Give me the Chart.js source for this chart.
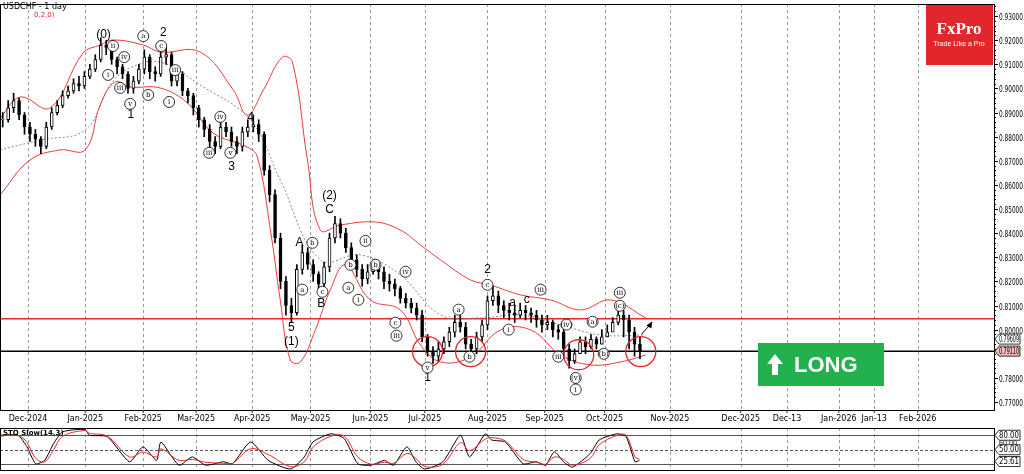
<!DOCTYPE html>
<html><head><meta charset="utf-8">
<script src="https://cdn.jsdelivr.net/npm/chart.js@4/dist/chart.umd.min.js"></script>
<style>
body{margin:0;background:#fff;width:1024px;height:474px;overflow:hidden;font-family:"Liberation Sans",Arial,sans-serif}
canvas{position:absolute;left:0}
#p{top:0}#s{top:426px}
</style></head><body>
<canvas id="p" width="1024" height="426"></canvas>
<canvas id="s" width="1024" height="48"></canvas>
<script>
// price bars, one every two trading days
const closes = [0.887,0.892,0.895,0.889,0.884,0.881,0.879,0.876,0.884,0.890,0.893,0.897,0.899,0.902,0.901,0.905,0.908,0.912,0.918,0.917,0.912,0.909,0.906,0.900,0.903,0.908,0.913,0.907,0.906,0.913,0.914,0.903,0.906,0.899,0.897,0.892,0.887,0.883,0.878,0.876,0.884,0.882,0.878,0.876,0.882,0.884,0.885,0.881,0.866,0.856,0.838,0.820,0.810,0.807,0.825,0.832,0.827,0.823,0.819,0.826,0.838,0.844,0.840,0.834,0.829,0.825,0.821,0.824,0.826,0.824,0.820,0.819,0.817,0.813,0.811,0.809,0.806,0.797,0.791,0.789,0.792,0.795,0.799,0.803,0.801,0.794,0.792,0.797,0.802,0.812,0.814,0.810,0.808,0.807,0.806,0.808,0.807,0.806,0.804,0.802,0.803,0.800,0.799,0.792,0.787,0.790,0.795,0.793,0.796,0.794,0.797,0.799,0.803,0.806,0.804,0.799,0.794,0.7911];
const highs = [0.890,0.895,0.898,0.896,0.890,0.886,0.883,0.880,0.886,0.892,0.895,0.899,0.901,0.904,0.905,0.907,0.910,0.914,0.921,0.920,0.918,0.913,0.910,0.907,0.905,0.910,0.916,0.914,0.909,0.915,0.917,0.915,0.908,0.907,0.900,0.898,0.893,0.888,0.885,0.880,0.887,0.886,0.884,0.880,0.884,0.887,0.889,0.887,0.882,0.868,0.858,0.840,0.822,0.813,0.827,0.835,0.834,0.829,0.824,0.828,0.840,0.847,0.846,0.842,0.836,0.831,0.827,0.827,0.829,0.828,0.826,0.823,0.821,0.818,0.815,0.813,0.811,0.808,0.798,0.793,0.795,0.797,0.801,0.806,0.806,0.803,0.796,0.799,0.804,0.814,0.818,0.816,0.812,0.811,0.810,0.811,0.810,0.809,0.808,0.806,0.806,0.804,0.802,0.801,0.794,0.792,0.797,0.797,0.798,0.797,0.800,0.802,0.805,0.808,0.808,0.806,0.801,0.797];
const lows = [0.884,0.886,0.890,0.887,0.881,0.878,0.876,0.873,0.875,0.883,0.889,0.892,0.896,0.898,0.899,0.900,0.904,0.907,0.911,0.914,0.910,0.906,0.904,0.898,0.898,0.902,0.906,0.904,0.903,0.905,0.910,0.901,0.901,0.897,0.894,0.889,0.884,0.880,0.875,0.873,0.875,0.880,0.876,0.873,0.874,0.880,0.882,0.878,0.864,0.853,0.836,0.817,0.806,0.803,0.806,0.823,0.825,0.820,0.816,0.816,0.824,0.836,0.838,0.832,0.827,0.822,0.818,0.819,0.823,0.821,0.817,0.816,0.814,0.811,0.809,0.807,0.804,0.795,0.789,0.786,0.787,0.790,0.793,0.797,0.799,0.792,0.789,0.790,0.795,0.800,0.810,0.807,0.805,0.804,0.803,0.805,0.804,0.803,0.801,0.799,0.800,0.797,0.796,0.789,0.784,0.786,0.790,0.790,0.792,0.792,0.794,0.797,0.801,0.802,0.797,0.792,0.789,0.788];

// bollinger band readings (x in trading days)
const upperDays = [0,7.4,18.4,30.5,36.8,41.5,52.6,58.8,73.5,85.7,90.8,96.7,103.7,107.4,112.9,117.6,125,137.9,147,154.4,161.8,172.8,180.1,191.2,202.2,213.2,224.3,237.1];
const upperVals = [0.8877,0.8964,0.8919,0.9147,0.918,0.9201,0.918,0.9151,0.9151,0.8993,0.889,0.8993,0.913,0.9109,0.8703,0.8413,0.8434,0.8446,0.8413,0.8351,0.8289,0.8206,0.8185,0.8144,0.8123,0.8082,0.8123,0.8049];
const lowerDays = [0,11,22,31.3,36.8,42.3,47.8,58.8,68.8,78.3,90.8,94.5,99.3,102.9,106.6,110.3,115.8,121.3,126.8,136,147,154.4,161.8,172.8,183.8,194.9,205.9,216.9,227.9,237.1];
const lowerVals = [0.8558,0.8703,0.8745,0.8745,0.8931,0.9027,0.9006,0.9002,0.894,0.8815,0.8757,0.8716,0.8413,0.8123,0.7874,0.7866,0.7999,0.8165,0.8268,0.8123,0.8082,0.7937,0.7866,0.7887,0.7999,0.7999,0.7895,0.7854,0.7866,0.7895];
const midDays = [0,14.7,31.3,40.4,47.8,58.8,73.5,91.9,102.9,117.6,132.4,147,161.8,176.5,191.2,205.9,220.6,237.1];
const midVals = [0.8745,0.8786,0.8828,0.9014,0.9085,0.9109,0.9014,0.8869,0.862,0.8289,0.831,0.8227,0.8061,0.8049,0.8061,0.802,0.7978,0.7978];

const resistance = 0.8045;
const support = 0.7911;
const lastPrice = 0.79110;
const bidPrice = 0.79609;

// stochastic slow (14,3)
const stoDays = [0,6.6,9.9,13.1,16.4,19.7,23,31.2,32.8,39.4,47.6,52.5,57.5,59.1,65.7,70.6,75.5,82.1,85.4,92,98.5,106.7,111.7,114.9,121.5,126.4,131.4,136.3,141.2,144.5,149.4,152.7,156,162.6,169.1,172.4,178.2,180.6,185.6,192.1,197,200.3,203.6,206.9,210.2,216.7,220,226.6,229.9,233.2,234.8];
const stoK = [80,80,56,21,28,63,87,92,80,77,25,56,28,66,18,35,18,25,21,66,28,10,35,66,83,73,21,18,28,18,56,25,10,25,80,35,83,70,66,21,25,18,46,25,14,42,70,83,77,25,28];
const stoD = [78,80,65,32,25,50,78,90,84,78,35,45,35,52,28,30,24,22,22,52,40,15,25,55,78,78,35,20,24,22,42,32,15,20,65,48,72,75,68,30,24,20,35,30,18,32,60,80,80,35,30];

// axis ticks
const timeTickDays = [10.3,31.3,52.6,72,92.6,114,136,156,179,200,222,246,272,289,308,321,337];
const timeTickLabels = ['Dec-2024','Jan-2025','Feb-2025','Mar-2025','Apr-2025','May-2025','Jun-2025','Jul-2025','Aug-2025','Sep-2025','Oct-2025','Nov-2025','Dec-2025','Dec-13','Jan-2026','Jan-13','Feb-2026'];
const priceTicks = [0.93,0.92,0.91,0.90,0.89,0.88,0.87,0.86,0.85,0.84,0.83,0.82,0.81,0.80,0.78,0.77];

// wave labels [text, day, price, circled]
const waves = [
 ['(0)',38,0.9221,0],['1',48,0.889,0],['2',60,0.923,0],['3',85,0.8675,0],['4',92,0.8878,0],
 ['5',107,0.801,0],['(1)',107,0.795,0],['A',110,0.836,0],['B',118,0.8108,0],['C',121,0.8497,0],
 ['(2)',121,0.8555,0],['1',157,0.780,0],['2',179,0.8248,0],['a',188.2,0.8112,0],['c',193.4,0.8124,0],
 ['ii',41.5,0.9176,1],['iv',45.6,0.913,1],['i',39.7,0.9056,1],['iii',44.1,0.9002,1],['v',47.8,0.8936,1],
 ['a',52.6,0.9217,1],['c',59.2,0.9176,1],['b',54.4,0.8973,1],['i',62.1,0.8944,1],['iii',64.3,0.9076,1],
 ['iv',80.9,0.8882,1],['iii',76.8,0.8733,1],['v',84.6,0.8733,1],['b',114.7,0.836,1],['a',111,0.8166,1],
 ['c',118.4,0.8157,1],['ii',134.2,0.8368,1],['b',128.7,0.8269,1],['a',127.9,0.8174,1],['(b)',137.9,0.8269,1],
 ['i',131.6,0.8124,1],['iv',148.9,0.824,1],['c',145.2,0.8029,1],['iii',145.6,0.7975,1],['v',157,0.7843,1],
 ['a',168.4,0.8083,1],['b',172.4,0.7888,1],['c',179,0.8186,1],['i',186.8,0.8,1],['iii',198.5,0.8166,1],
 ['(iv)',208,0.8021,1],['iii',205,0.7888,1],['(v)',211.4,0.78,1],['i',211.4,0.7752,1],['(a)',217.6,0.8033,1],
 ['(b)',221.7,0.79,1],['(c)',227.6,0.8099,1],['iii',227.6,0.8153,1]
];
const rings = [[157,0.7909],[172.8,0.7909],[212.5,0.7896],[235.3,0.7909]];

const xMax = 365;
const pts = (xs, ys) => xs.map((x, i) => ({x: x, y: ys[i]}));
const slotDay = i => 2 * i + 1;

const opens = closes.map((c, i) => i ? closes[i - 1] : c);
const wicks = closes.map((c, i) => ({x: slotDay(i), y: [lows[i], highs[i]]}));
const bodies = closes.map((c, i) => ({x: slotDay(i), y: [opens[i], c === opens[i] ? c + 0.0003 : c]}));
const bodyFill = closes.map((c, i) => c >= opens[i] ? '#fff' : '#000');

function frame(chart, ctx) {
    const a = chart.chartArea;
    ctx.save();
    ctx.strokeStyle = '#9a9a9a';
    ctx.setLineDash([3, 3]);
    ctx.lineWidth = 1;
    timeTickDays.forEach(d => {
        const x = Math.round(chart.scales.x.getPixelForValue(d)) + 0.5;
        ctx.beginPath(); ctx.moveTo(x, a.top); ctx.lineTo(x, a.bottom); ctx.stroke();
    });
    ctx.restore();
}
function border(chart, ctx) {
    const a = chart.chartArea;
    ctx.save();
    ctx.strokeStyle = '#000'; ctx.lineWidth = 1;
    ctx.strokeRect(a.left + 0.5, a.top + 0.5, a.right - a.left, a.bottom - a.top);
    ctx.restore();
}
function narrow(ctx, text, x, y, maxW) {
    const w = ctx.measureText(text).width;
    const k = Math.min(1, maxW / w);
    ctx.save(); ctx.translate(x, y); ctx.scale(k, 1); ctx.fillText(text, 0, 0); ctx.restore();
}
function tag(ctx, x, y, text, bg) {
    ctx.font = '8px "DejaVu Sans", sans-serif';
    const w = 22;
    ctx.fillStyle = bg; ctx.strokeStyle = '#333'; ctx.lineWidth = 1;
    ctx.beginPath();
    ctx.moveTo(x + 1, y); ctx.lineTo(x + 5, y - 5); ctx.lineTo(x + 4 + w, y - 5);
    ctx.lineTo(x + 4 + w, y + 5); ctx.lineTo(x + 5, y + 5); ctx.closePath();
    ctx.fill(); ctx.stroke();
    ctx.fillStyle = '#000'; ctx.textBaseline = 'middle'; ctx.textAlign = 'left';
    narrow(ctx, text, x + 5, y + 0.5, w - 2);
}

const pricePlugin = {
    id: 'pricePlugin',
    beforeDatasetsDraw(chart) { frame(chart, chart.ctx); },
    afterDatasetsDraw(chart) {
        const ctx = chart.ctx, a = chart.chartArea, xs = chart.scales.x, ys = chart.scales.y;
        ctx.save();
        // rings
        ctx.strokeStyle = '#e8262b'; ctx.lineWidth = 1.3;
        rings.forEach(r => {
            ctx.beginPath();
            ctx.arc(xs.getPixelForValue(r[0]), ys.getPixelForValue(r[1]), 15, 0, Math.PI * 2);
            ctx.stroke();
        });
        // arrow
        const ax = xs.getPixelForValue(235.5), ay = ys.getPixelForValue(0.798);
        ctx.strokeStyle = '#000'; ctx.lineWidth = 1;
        ctx.beginPath(); ctx.moveTo(ax, ay); ctx.lineTo(ax + 9, ay - 10); ctx.stroke();
        ctx.fillStyle = '#000';
        ctx.beginPath(); ctx.moveTo(ax + 11, ay - 13); ctx.lineTo(ax + 5, ay - 9); ctx.lineTo(ax + 10, ay - 6); ctx.fill();
        // wave labels
        ctx.textAlign = 'center'; ctx.textBaseline = 'middle';
        waves.forEach(w => {
            const x = xs.getPixelForValue(w[1]), y = ys.getPixelForValue(w[2]);
            if (w[3]) {
                ctx.fillStyle = '#fff'; ctx.strokeStyle = '#000'; ctx.lineWidth = 0.8;
                ctx.beginPath(); ctx.arc(x, y, 5.5, 0, Math.PI * 2); ctx.fill(); ctx.stroke();
                ctx.fillStyle = '#000'; ctx.font = '7px "DejaVu Serif", serif';
                ctx.fillText(w[0], x, y + 0.5);
            } else {
                ctx.fillStyle = '#000'; ctx.font = '12px "Liberation Sans", Arial';
                ctx.fillText(w[0], x, y);
            }
        });
        // title
        ctx.textAlign = 'left'; ctx.textBaseline = 'top';
        ctx.font = '8px "DejaVu Sans", sans-serif'; ctx.fillStyle = '#000';
        ctx.fillText('USDCHF - 1 day', 3, 3);
        ctx.fillStyle = '#e8262b'; ctx.font = '7px "DejaVu Sans", sans-serif';
        ctx.fillText('0,2,0)', 34, 12);
        // LONG box
        ctx.fillStyle = '#22b14c'; ctx.fillRect(758, 343, 126, 43);
        ctx.fillStyle = '#fff';
        ctx.beginPath(); ctx.moveTo(775, 354); ctx.lineTo(767, 364); ctx.lineTo(772, 364); ctx.lineTo(772, 375);
        ctx.lineTo(778, 375); ctx.lineTo(778, 364); ctx.lineTo(783, 364); ctx.closePath(); ctx.fill();
        ctx.font = 'bold 22px "Liberation Sans", Arial'; ctx.textBaseline = 'middle';
        ctx.fillText('LONG', 794, 366);
        // logo
        ctx.fillStyle = '#e3262b'; ctx.fillRect(926, 5, 67, 60);
        ctx.fillStyle = '#fff'; ctx.textAlign = 'center';
        ctx.font = 'bold 17px "Liberation Serif", serif'; ctx.fillText('FxPro', 959, 30);
        ctx.font = '7px "Liberation Sans", Arial'; ctx.fillText('Trade Like a Pro', 959, 44);
        ctx.restore();
        border(chart, ctx);
        // right axis
        ctx.save();
        ctx.fillStyle = '#000'; ctx.strokeStyle = '#000'; ctx.lineWidth = 1;
        ctx.font = '8px "DejaVu Sans", sans-serif'; ctx.textBaseline = 'middle'; ctx.textAlign = 'left';
        for (let v = 0.77; v <= 0.9351; v += 0.002) {
            const y = Math.round(ys.getPixelForValue(v)) + 0.5;
            ctx.beginPath(); ctx.moveTo(a.right, y); ctx.lineTo(a.right + 2, y); ctx.stroke();
        }
        priceTicks.forEach(v => {
            const y = Math.round(ys.getPixelForValue(v)) + 0.5;
            ctx.beginPath(); ctx.moveTo(a.right, y); ctx.lineTo(a.right + 4, y); ctx.stroke();
            narrow(ctx, v.toFixed(5), a.right + 5, y + 1, 24);
        });
        tag(ctx, a.right, ys.getPixelForValue(bidPrice), bidPrice.toFixed(5), '#fff');
        tag(ctx, a.right, ys.getPixelForValue(lastPrice), lastPrice.toFixed(5), '#f4b6b6');
        // time labels
        ctx.textAlign = 'center'; ctx.textBaseline = 'top';
        ctx.font = '8px "DejaVu Sans", sans-serif';
        timeTickDays.forEach((d, i) => {
            const x = xs.getPixelForValue(d);
            ctx.beginPath(); ctx.moveTo(x, a.bottom); ctx.lineTo(x, a.bottom + 3); ctx.stroke();
            ctx.fillText(timeTickLabels[i], x, a.bottom + 5);
        });
        ctx.restore();
    }
};

new Chart(document.getElementById('p'), {
    data: {
        datasets: [
            {type: 'line', data: pts([0, xMax], [resistance, resistance]), borderColor: '#e8262b', borderWidth: 1.5, pointRadius: 0, order: 5},
            {type: 'line', data: pts([0, xMax], [support, support]), borderColor: '#000', borderWidth: 1.5, pointRadius: 0, order: 5},
            {type: 'line', data: pts(upperDays, upperVals), borderColor: '#f03a3a', borderWidth: 1, pointRadius: 0, tension: 0.4, order: 4},
            {type: 'line', data: pts(lowerDays, lowerVals), borderColor: '#f03a3a', borderWidth: 1, pointRadius: 0, tension: 0.4, order: 4},
            {type: 'line', data: pts(midDays, midVals), borderColor: '#888', borderDash: [2, 2], borderWidth: 1, pointRadius: 0, tension: 0.4, order: 4},
            {type: 'bar', data: wicks, backgroundColor: '#000', barThickness: 1, grouped: false, order: 2},
            {type: 'bar', data: bodies, backgroundColor: bodyFill, borderColor: '#000', borderWidth: 1, borderSkipped: false, barThickness: 3, grouped: false, order: 1}
        ]
    },
    options: {
        animation: false, responsive: false,
        layout: {padding: {left: 0, right: 30, top: 4, bottom: 16}},
        plugins: {legend: {display: false}, tooltip: {enabled: false}},
        scales: {
            x: {type: 'linear', min: 0, max: xMax, offset: false, display: false},
            y: {min: 0.7667, max: 0.935, display: false}
        }
    },
    plugins: [pricePlugin]
});

const stoPlugin = {
    id: 'stoPlugin',
    beforeDatasetsDraw(chart) {
        const ctx = chart.ctx, a = chart.chartArea, ys = chart.scales.y;
        frame(chart, ctx);
        ctx.save();
        ctx.strokeStyle = '#555'; ctx.lineWidth = 1;
        [80, 20].forEach(v => {
            const y = Math.round(ys.getPixelForValue(v)) + 0.5;
            ctx.beginPath(); ctx.moveTo(a.left, y); ctx.lineTo(a.right, y); ctx.stroke();
        });
        ctx.setLineDash([3, 2]);
        const y5 = Math.round(ys.getPixelForValue(50)) + 0.5;
        ctx.beginPath(); ctx.moveTo(a.left, y5); ctx.lineTo(a.right, y5); ctx.stroke();
        ctx.restore();
    },
    afterDatasetsDraw(chart) {
        const ctx = chart.ctx, a = chart.chartArea, ys = chart.scales.y;
        border(chart, ctx);
        ctx.save();
        ctx.fillStyle = '#000'; ctx.font = 'bold 7px "DejaVu Sans", sans-serif';
        ctx.textBaseline = 'top'; ctx.fillText('STO Slow(14,3)', 3, a.top + 2);
        ctx.font = '7px "DejaVu Sans", sans-serif'; ctx.textBaseline = 'middle';
        narrow(ctx, '60.00', a.right + 5, ys.getPixelForValue(63), 18);
        tag(ctx, a.right, ys.getPixelForValue(80), '80.00', '#fff');
        tag(ctx, a.right, ys.getPixelForValue(50), '50.00', '#fff');
        tag(ctx, a.right, ys.getPixelForValue(25.61), '25.61', '#fff');
        ctx.restore();
    }
};

new Chart(document.getElementById('s'), {
    type: 'line',
    data: {
        datasets: [
            {data: pts(stoDays, stoD), borderColor: '#e8262b', borderWidth: 1, pointRadius: 0, tension: 0.35},
            {data: pts(stoDays, stoK), borderColor: '#000', borderWidth: 1, pointRadius: 0, tension: 0.2}
        ]
    },
    options: {
        animation: false, responsive: false,
        layout: {padding: {left: 0, right: 30, top: 2, bottom: 4}},
        plugins: {legend: {display: false}, tooltip: {enabled: false}},
        scales: {
            x: {type: 'linear', min: 0, max: xMax, display: false},
            y: {min: 8, max: 95, display: false}
        }
    },
    plugins: [stoPlugin]
});
</script>
</body></html>
